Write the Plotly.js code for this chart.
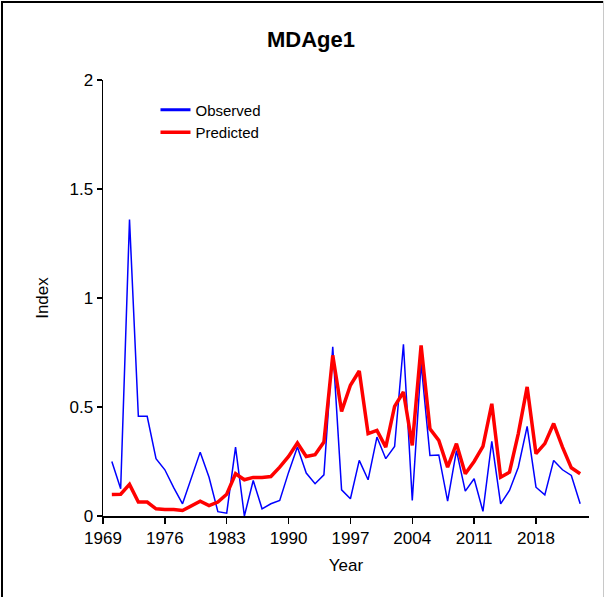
<!DOCTYPE html>
<html>
<head>
<meta charset="utf-8">
<script src="https://cdn.plot.ly/plotly-3.0.1.min.js"></script>
<style>
  html, body { margin: 0; padding: 0; background: #fff; }
  #wrap { position: relative; width: 605px; height: 597px; overflow: hidden; }
  #chart { width: 605px; height: 597px; }
  .bl { position: absolute; left: 1px; top: 1px; width: 2px; height: 596px; background: #000; }
  .bt { position: absolute; left: 1px; top: 1px; width: 603px; height: 2px; background: #000; }
  .br { position: absolute; left: 603px; top: 1px; width: 1px; height: 596px; background: #c8c8c8; }
</style>
</head>
<body>
<div id="wrap">
  <div id="chart"></div>
  <div class="bl"></div><div class="bt"></div><div class="br"></div>
</div>
<script>
const years = [1970,1971,1972,1973,1974,1975,1976,1977,1978,1979,
               1980,1981,1982,1983,1984,1985,1986,1987,1988,1989,
               1990,1991,1992,1993,1994,1995,1996,1997,1998,1999,
               2000,2001,2002,2003,2004,2005,2006,2007,2008,2009,
               2010,2011,2012,2013,2014,2015,2016,2017,2018,2019,
               2020,2021,2022,2023];

const observed = [0.25,0.125,1.36,0.457,0.457,0.263,0.212,0.13,0.056,0.17,
                  0.293,0.178,0.02,0.013,0.316,0.0,0.163,0.033,0.056,0.071,
                  0.2,0.316,0.197,0.148,0.189,0.776,0.12,0.079,0.255,0.166,
                  0.362,0.263,0.319,0.788,0.071,0.70,0.278,0.28,0.068,0.30,
                  0.114,0.171,0.021,0.342,0.056,0.117,0.224,0.411,0.132,0.097,
                  0.255,0.212,0.186,0.056];

const predicted = [0.099,0.1,0.145,0.064,0.064,0.033,0.03,0.03,0.025,0.045,
                   0.068,0.048,0.064,0.1,0.194,0.166,0.177,0.177,0.181,0.224,
                   0.273,0.335,0.273,0.281,0.339,0.737,0.48,0.6,0.665,0.378,
                   0.393,0.316,0.503,0.569,0.324,0.783,0.4,0.347,0.224,0.332,
                   0.194,0.25,0.319,0.515,0.178,0.201,0.378,0.592,0.286,0.332,
                   0.424,0.316,0.221,0.194];

const xTickVals = [1969,1976,1983,1990,1997,2004,2011,2018];
const xTickText = ['1969','1976','1983','1990','1997','2004','2011','2018'];
const yTickVals = [0,0.5,1,1.5,2];
const yTickText = ['0','0.5','1','1.5','2'];

const FONT = '"Liberation Sans", Arial, sans-serif';

const traces = [
  {x: years, y: observed, type: 'scatter', mode: 'lines', name: 'Observed',
   line: {color: '#0000ff', width: 1.5}, showlegend: false},
  {x: years, y: predicted, type: 'scatter', mode: 'lines', name: 'Predicted',
   line: {color: '#ff0000', width: 3.5}, showlegend: false},
  {x: [null], y: [null], type: 'scatter', mode: 'lines', name: 'Observed',
   line: {color: '#0000ff', width: 3}},
  {x: [null], y: [null], type: 'scatter', mode: 'lines', name: 'Predicted',
   line: {color: '#ff0000', width: 3.5}}
];

const layout = {
  width: 605, height: 597,
  margin: {l: 103, r: 16, t: 80, b: 81},
  paper_bgcolor: '#fff', plot_bgcolor: '#fff',
  font: {family: FONT, color: '#000', size: 16},
  title: {text: '<b>MDAge1</b>', font: {family: FONT, size: 22, color: '#000'},
          x: 311/605, xref: 'container', xanchor: 'center', y: 1 - 39/597, yref: 'container', yanchor: 'middle'},
  showlegend: true,
  legend: {x: 0.108, y: 0.969, xanchor: 'left', yanchor: 'top', bgcolor: 'rgba(0,0,0,0)',
           font: {family: FONT, size: 15, color: '#000'}, tracegroupgap: 0, itemwidth: 30},
  xaxis: {range: [1969, 2024], tickmode: 'array', tickvals: xTickVals, ticktext: xTickText,
          showgrid: false, zeroline: false, showline: true, linecolor: '#000', linewidth: 1.5,
          ticks: 'outside', ticklen: 6, tickwidth: 1.5, tickcolor: '#000',
          tickfont: {family: FONT, size: 17, color: '#000'},
          title: {text: 'Year', font: {family: FONT, size: 17, color: '#000'}, standoff: 12}},
  yaxis: {range: [0, 2], tickmode: 'array', tickvals: yTickVals, ticktext: yTickText,
          showgrid: false, zeroline: false, showline: true, linecolor: '#000', linewidth: 1.5,
          ticks: 'outside', ticklen: 5, tickwidth: 1.5, tickcolor: '#000',
          tickfont: {family: FONT, size: 17, color: '#000'},
          title: {text: 'Index', font: {family: FONT, size: 17, color: '#000'}, standoff: 16}}
};

Plotly.newPlot('chart', traces, layout, {displayModeBar: false, staticPlot: true});
</script>
</body>
</html>
